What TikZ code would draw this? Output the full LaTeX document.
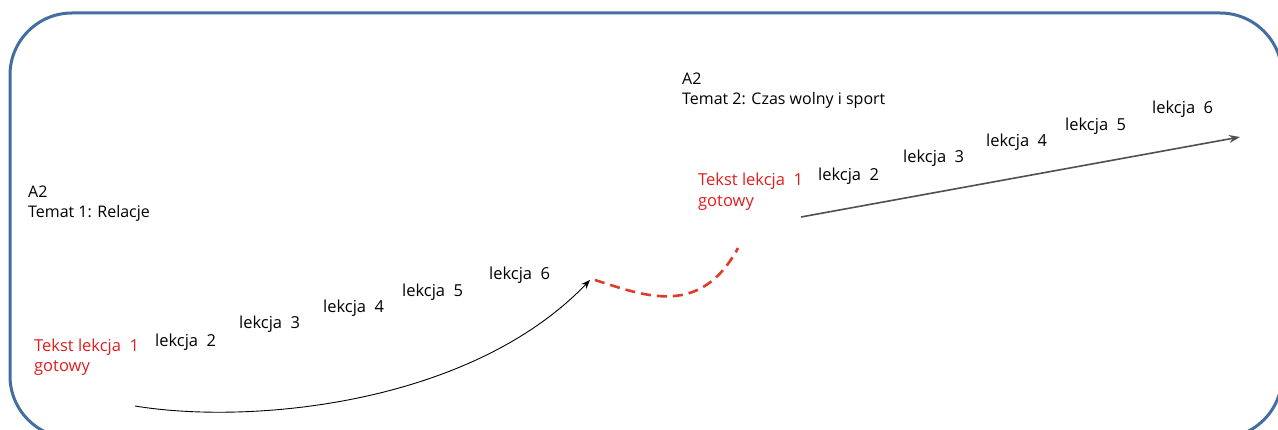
\documentclass[tikz,border=0pt]{standalone}
\usepackage{fontspec}
\setmainfont{Open Sans}
\usetikzlibrary{arrows.meta}
\definecolor{frameblue}{RGB}{66,111,160}
\definecolor{donered}{RGB}{226,30,30}
\definecolor{dashred}{RGB}{222,60,40}
\definecolor{arrowgray}{RGB}{80,80,80}
\tikzset{
  lbl/.style={anchor=base west, inner sep=0pt, font=\fontsize{16.5}{20}\selectfont, text=black},
  donelbl/.style={lbl, text=donered},
  topic/.style={anchor=base west, inner sep=0pt, font=\fontsize{16}{20.5}\selectfont, align=left, text=black},
}
\begin{document}
\begin{tikzpicture}[x=1pt,y=-1pt]
\useasboundingbox (0,0) rectangle (1278,430);
\clip (0,0) rectangle (1278,430);
\fill[white] (0,0) rectangle (1278,430);
% outer frame
\draw[frameblue, line width=3pt, rounded corners=62pt] (10,13) rectangle (1282,438);

% topic 1
\node[topic] (t1a) at (28,198) {A2};
\node[topic] (t1b) at (28,218) {Temat 1: Relacje};
\node[donelbl] (d1a) at (34,352) {Tekst lekcja\ \ 1};
\node[donelbl] (d1b) at (34,372) {gotowy};
\node[lbl] (l12) at (155,347) {lekcja\ \ 2};
\node[lbl] (l13) at (239,329) {lekcja\ \ 3};
\node[lbl] (l14) at (323,313) {lekcja\ \ 4};
\node[lbl] (l15) at (402,297) {lekcja\ \ 5};
\node[lbl] (l16) at (489,280) {lekcja\ \ 6};
\coordinate (c1s) at (135,406);
\coordinate (c1e) at (590,280);
\draw[black, line width=0.9pt, -{Stealth[length=9pt,width=7pt]}]
  (c1s) .. controls (250,425) and (470,405) .. (c1e);

% link between the topics
\coordinate (c2s) at (595,280);
\coordinate (c2e) at (738,248);
\draw[dashred, line width=2.6pt, dash pattern=on 10pt off 6pt]
  (c2s) .. controls (645,296) and (700,318) .. (c2e);

% topic 2
\node[topic] (t2a) at (682,85) {A2};
\node[topic] (t2b) at (682,105) {Temat 2: Czas wolny i sport};
\node[donelbl] (d2a) at (698,186) {Tekst lekcja\ \ 1};
\node[donelbl] (d2b) at (698,207) {gotowy};
\node[lbl] (l22) at (818,181) {lekcja\ \ 2};
\node[lbl] (l23) at (903,163) {lekcja\ \ 3};
\node[lbl] (l24) at (986,147) {lekcja\ \ 4};
\node[lbl] (l25) at (1065,131) {lekcja\ \ 5};
\node[lbl] (l26) at (1152,114) {lekcja\ \ 6};
\coordinate (c3s) at (801,217);
\coordinate (c3e) at (1240,137);
\draw[arrowgray, line width=1.6pt, -{Stealth[length=11pt,width=8pt]}] (c3s) -- (c3e);
\end{tikzpicture}
\end{document}
